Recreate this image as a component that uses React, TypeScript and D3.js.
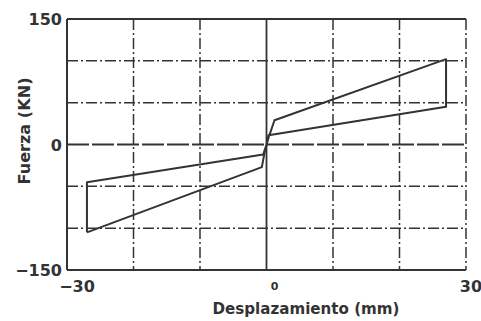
import React from 'react';
import * as d3 from 'd3';

// hysteresis loop (mm, kN)
const loopX = [-27, -0.7, -0.3, 0.3, 1.2, 27, 27, 0.3, 0, -0.5, -27, -27];
const loopY = [-105, -27, -10, 8, 29, 102, 45, 11, 0, -12, -45, -105];

const xTicks = [-30, -20, -10, 0, 10, 20, 30];
const yTicks = [-150, -100, -50, 0, 50, 100, 150];
const xTickLabels = ['-30', '0', '30'];
const yTickLabels = ['-150', '0', '150'];

const W = 481;
const H = 321;
const ink = '#333';
const font = '"DejaVu Sans", sans-serif';

export default function App() {
  const x = d3.scaleLinear().domain([-30, 30]).range([67, 466]);
  const y = d3.scaleLinear().domain([-150, 150]).range([270, 19]);

  const pts: [number, number][] = loopX.map((v, i) => [v, loopY[i]]);
  const line = d3.line<[number, number]>().x(d => x(d[0])).y(d => y(d[1]));

  const dash = '11,3,2,3';

  return (
    <svg width={W} height={H} style={{ position: 'absolute', left: 0, top: 0, background: '#fff' }}>
      <rect width={W} height={H} fill="#fff" />
      {/* vertical grid */}
      {xTicks.map(t => (
        <line key={'vx' + t} x1={x(t)} x2={x(t)} y1={y(150)} y2={y(-150)}
          stroke={ink} strokeWidth={t === 0 ? 1.8 : 1.5}
          strokeDasharray={t === 0 || t === -30 ? undefined : dash} />
      ))}
      {/* horizontal grid */}
      {yTicks.map(t => (
        <line key={'hy' + t} x1={x(-30)} x2={x(30)} y1={y(t)} y2={y(t)}
          stroke={ink} strokeWidth={t === 0 ? 1.8 : 1.5}
          strokeDasharray={t === 0 ? '22,3' : (t === 150 || t === -150 ? undefined : dash)} />
      ))}
      {/* frame left / bottom solid */}
      <line x1={x(-30)} x2={x(-30)} y1={y(150)} y2={y(-150)} stroke={ink} strokeWidth={2} />
      <line x1={x(-30)} x2={x(30)} y1={y(-150)} y2={y(-150)} stroke={ink} strokeWidth={2} />
      <line x1={x(-30)} x2={x(30)} y1={y(150)} y2={y(150)} stroke={ink} strokeWidth={2} />

      {/* loop */}
      <path d={line(pts) || ''} fill="none" stroke={ink} strokeWidth={2} strokeLinejoin="round" />

      {/* y tick labels */}
      {yTickLabels.map(l => (
        <text key={'yl' + l} x={x(-30) - 5} y={y(+l) + 6} textAnchor="end"
          fontFamily={font} fontWeight="bold" fontSize={16} fill={ink}>
          {l.replace('-', '\u2212')}
        </text>
      ))}
      {/* x tick labels */}
      {xTickLabels.map(l => (
        <text key={'xl' + l} x={x(+l) + (l === '0' ? 8 : l === '30' ? 5 : 10)} y={l === '0' ? 290 : 292}
          textAnchor="middle" fontFamily={font} fontWeight="bold"
          fontSize={l === '0' ? 11 : 16} fill={ink}>
          {l.replace('-', '\u2212')}
        </text>
      ))}

      <text x={306} y={314} textAnchor="middle" fontFamily={font} fontWeight="bold"
        fontSize={15} fill={ink} textLength={187} lengthAdjust="spacingAndGlyphs">
        Desplazamiento (mm)
      </text>
      <text transform="translate(30,131) rotate(-90)" textAnchor="middle" fontFamily={font}
        fontWeight="bold" fontSize={15} fill={ink} textLength={107} lengthAdjust="spacingAndGlyphs">
        Fuerza (KN)
      </text>
    </svg>
  );
}
